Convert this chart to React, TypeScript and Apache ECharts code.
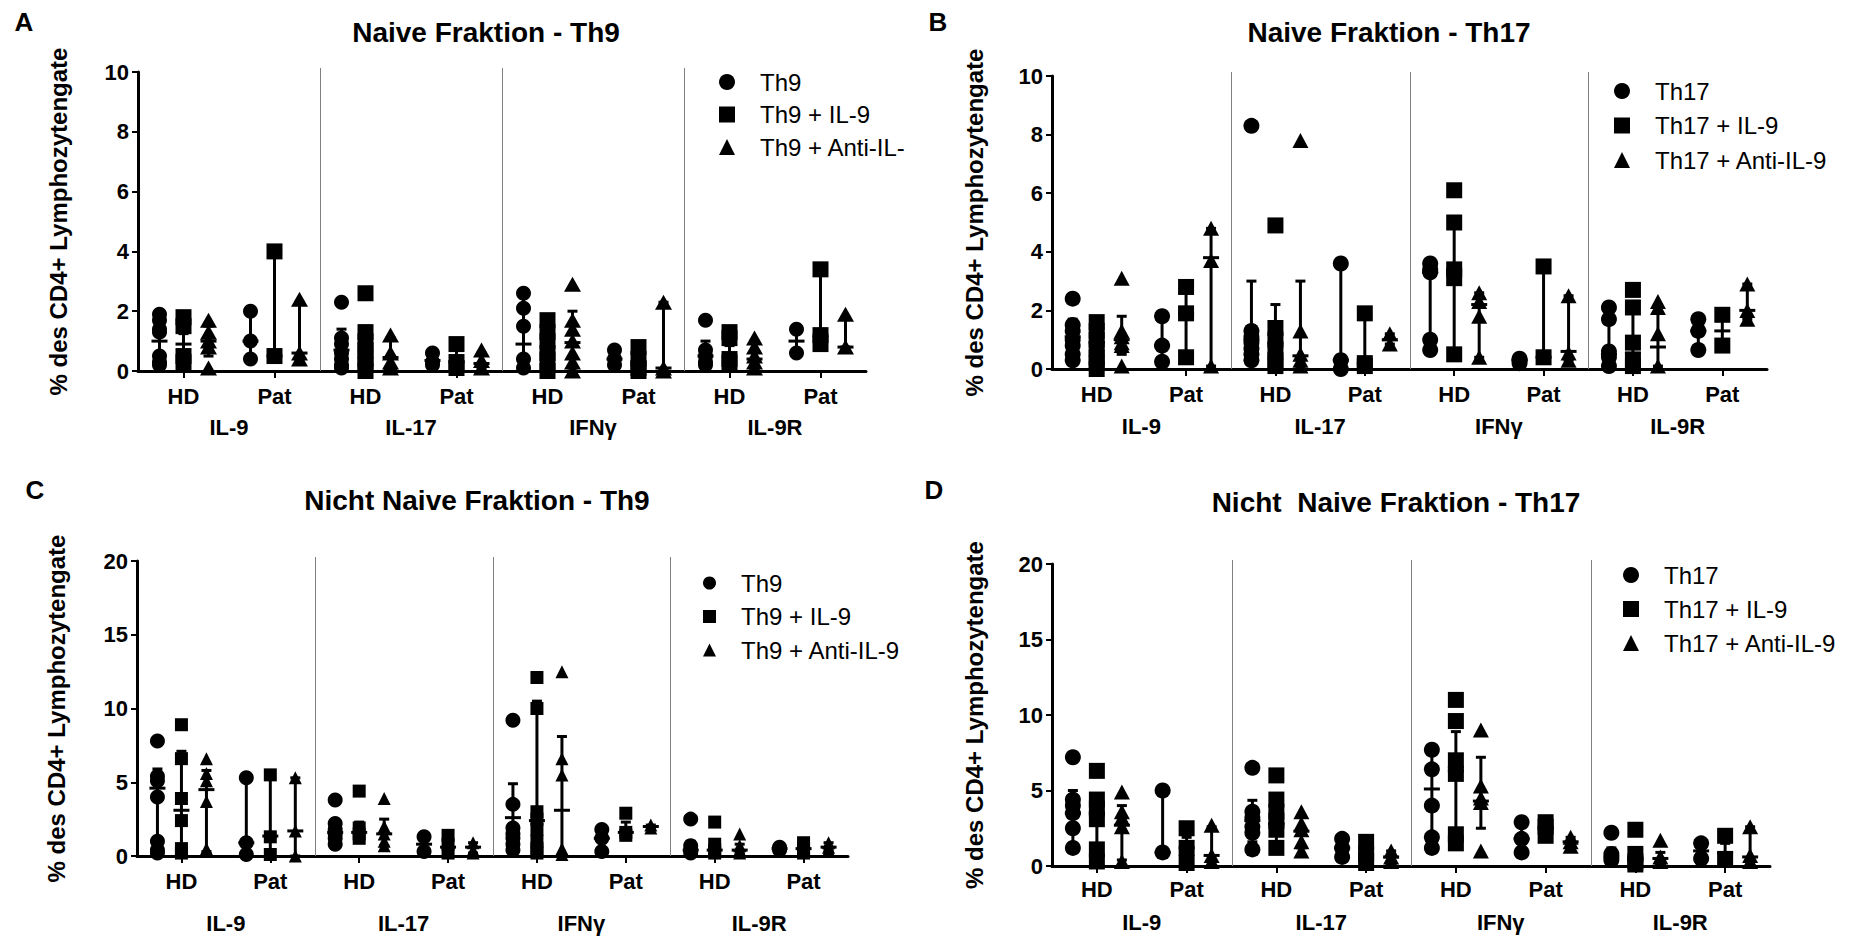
import React, { useEffect, useRef } from 'react';
import * as echarts from 'echarts';

// ---------- categories & labels ----------
const categories = ['HD', 'Pat', 'HD', 'Pat', 'HD', 'Pat', 'HD', 'Pat'];
const groups = ['IL-9', 'IL-17', 'IFNγ', 'IL-9R'];
const namesTh9 = ['Th9', 'Th9 + IL-9', 'Th9 + Anti-IL-9'];
const namesTh17 = ['Th17', 'Th17 + IL-9', 'Th17 + Anti-IL-9'];
const yAxisName = '% des CD4+ Lymphozytengate';
const titles = ['Naive Fraktion - Th9', 'Naive Fraktion - Th17', 'Nicht Naive Fraktion - Th9', 'Nicht  Naive Fraktion - Th17'];
const letters = ['A', 'B', 'C', 'D'];
const yMaxNaive = 10;
const yStepNaive = 2;
const yMaxNonNaive = 20;
const yStepNonNaive = 5;

// ---------- Panel A: Naive Fraktion - Th9 (values per category) ----------
const aTh9 = [[1.9, 1.7, 1.4, 1.3, 0.5, 0.3, 0.2], [2.0, 1.0, 0.4], [2.3, 1.1, 0.9, 0.6, 0.4, 0.2, 0.1], [0.6, 0.3, 0.2], [2.6, 2.1, 1.5, 0.4, 0.1], [0.7, 0.4, 0.2], [1.7, 0.7, 0.5, 0.3, 0.2], [1.4, 0.6]];
const aTh9IL9 = [[1.8, 1.5, 0.5, 0.3], [4.0, 0.5], [2.6, 1.3, 1.0, 0.7, 0.4, 0.2, 0.0], [0.9, 0.3, 0.1], [1.7, 1.3, 1.0, 0.6, 0.3, 0.0], [0.8, 0.4, 0.1, 0.0], [1.3, 1.1, 0.4, 0.2], [3.4, 1.2, 0.9]];
const aTh9Anti = [[1.7, 1.3, 1.0, 0.8, 0.1], [2.4, 0.6, 0.4], [1.2, 0.6, 0.3, 0.2, 0.1], [0.7, 0.35, 0.1], [2.9, 1.7, 1.4, 1.0, 0.6, 0.3, 0.0], [2.3, 0.1, 0.0], [1.1, 0.8, 0.5, 0.3, 0.1], [1.9, 0.8]];
// error bars [low, centre, high]
const aTh9Bars = [[0.3, 1.0, 1.8], [0.4, 1.0, 2.0], [0.1, 0.7, 1.4], [0.2, 0.35, 0.6], [0.1, 0.9, 2.6], [0.2, 0.4, 0.7], [0.1, 0.5, 1.0], [0.6, 1.0, 1.4]];
const aTh9IL9Bars = [[0.6, 0.9, 1.25], [0.5, 0.5, 4.0], [0.0, 0.7, 1.5], [0.1, 0.3, 0.9], [0.0, 0.6, 1.7], [0.0, 0.3, 0.8], [0.3, 0.5, 0.85], [0.9, 1.2, 3.4]];
const aTh9AntiBars = [[0.5, 1.0, 1.5], [0.4, 0.6, 2.3], [0.0, 0.45, 1.1], [0.1, 0.25, 0.6], [0.0, 0.95, 2.0], [0.0, 0.1, 2.3], [0.1, 0.4, 1.0], [0.8, 0.8, 1.8]];

// ---------- Panel B: Naive Fraktion - Th17 ----------
const bTh17 = [[2.4, 1.5, 1.3, 1.0, 0.8, 0.5, 0.3], [1.8, 0.8, 0.25], [8.3, 1.3, 1.1, 0.9, 0.7, 0.5, 0.3], [3.6, 0.3, 0.0], [3.6, 3.4, 3.3, 1.0, 0.65], [0.35, 0.3, 0.2], [2.1, 1.7, 0.6, 0.4, 0.1], [1.7, 1.3, 0.65]];
const bTh17IL9 = [[1.6, 1.3, 1.0, 0.7, 0.4, 0.2, 0.0], [2.8, 1.9, 0.4], [4.9, 1.4, 1.0, 0.6, 0.3, 0.1], [1.9, 0.2, 0.1], [6.1, 5.0, 3.4, 3.1, 0.5], [3.5, 0.4], [2.7, 2.1, 0.9, 0.3, 0.1], [1.85, 0.8]];
const bTh17Anti = [[3.1, 1.3, 1.1, 0.9, 0.8, 0.1], [4.8, 3.7, 0.1], [7.8, 1.3, 0.5, 0.3, 0.1], [1.2, 0.85], [2.6, 2.3, 1.8, 0.4], [2.5, 0.55, 0.3], [2.3, 2.1, 1.2, 0.1], [2.9, 2.0, 1.7]];
const bTh17Bars = [[0.3, 1.1, 1.7], [0.25, 0.8, 1.8], [0.3, 1.0, 3.0], [0.0, 0.3, 3.6], [0.7, 3.3, 3.6], [0.2, 0.3, 0.35], [0.1, 0.5, 2.0], [0.65, 1.3, 1.7]];
const bTh17IL9Bars = [[0.0, 0.9, 1.7], [0.4, 1.9, 2.8], [0.0, 0.9, 2.2], [0.1, 0.2, 1.7], [0.5, 3.4, 5.2], [0.4, 0.4, 3.5], [0.1, 0.55, 2.1], [0.8, 1.3, 1.85]];
const bTh17AntiBars = [[0.5, 1.0, 1.8], [0.1, 3.8, 4.8], [0.1, 0.45, 3.0], [0.85, 1.0, 1.2], [0.4, 2.2, 2.6], [0.3, 0.6, 2.5], [0.1, 0.75, 2.2], [1.7, 2.0, 2.9]];

// ---------- Panel C: Nicht Naive Fraktion - Th9 ----------
const cTh9 = [[7.8, 5.4, 5.1, 4.0, 1.0, 0.4, 0.2], [5.3, 0.9, 0.1], [3.8, 2.2, 1.8, 1.5, 1.2, 0.8], [1.3, 0.3], [9.2, 3.5, 1.9, 1.5, 1.2, 0.8, 0.4], [1.8, 1.2, 0.3], [2.5, 0.7, 0.4, 0.2], [0.6, 0.5, 0.4]];
const cTh9IL9 = [[8.9, 6.6, 3.9, 2.4, 0.5, 0.2], [5.5, 1.3, 0.1], [4.4, 1.9, 1.5, 1.2], [1.4, 0.8, 0.2], [12.1, 10.0, 3.0, 2.5, 1.8, 1.0, 0.5, 0.2], [2.9, 1.6, 1.4], [2.3, 0.8, 0.4, 0.2], [0.9, 0.5, 0.2]];
const cTh9Anti = [[6.6, 5.6, 5.1, 3.7, 0.5], [5.3, 1.7, 0.0], [3.9, 2.0, 1.5, 1.0, 0.7], [0.9, 0.4, 0.2], [12.5, 6.6, 5.5, 0.5, 0.1], [2.1, 1.9], [1.5, 0.7, 0.4, 0.2], [0.9, 0.6, 0.4]];
const cTh9Bars = [[0.3, 4.6, 5.9], [0.1, 0.9, 5.3], [1.0, 1.6, 2.4], [0.3, 0.8, 1.3], [0.4, 2.6, 4.9], [0.3, 1.2, 1.8], [0.2, 0.4, 1.0], [0.4, 0.5, 0.6]];
const cTh9IL9Bars = [[0.3, 3.1, 7.1], [0.1, 1.35, 5.5], [1.1, 1.6, 2.3], [0.2, 0.6, 1.4], [0.6, 2.4, 10.5], [1.3, 1.6, 2.3], [0.2, 0.4, 0.9], [0.2, 0.5, 0.9]];
const cTh9AntiBars = [[0.3, 4.5, 5.8], [0.0, 1.7, 5.3], [0.7, 1.5, 2.5], [0.2, 0.6, 0.9], [0.0, 3.1, 8.1], [1.9, 2.0, 2.1], [0.2, 0.4, 0.8], [0.4, 0.6, 0.9]];

// ---------- Panel D: Nicht Naive Fraktion - Th17 ----------
const dTh17 = [[7.2, 4.4, 4.0, 3.5, 2.5, 1.2], [5.0, 0.9], [6.5, 3.6, 3.2, 2.6, 2.2, 1.1], [1.8, 1.2, 0.6], [7.7, 6.4, 4.0, 1.9, 1.2], [2.9, 1.8, 0.9], [2.2, 0.8, 0.4], [1.5, 0.5]];
const dTh17IL9 = [[6.3, 4.4, 3.8, 3.1, 1.1, 0.3], [2.5, 1.2, 0.2], [6.0, 4.4, 3.6, 3.0, 2.4, 1.2], [1.6, 0.8, 0.2], [11.0, 9.6, 7.0, 6.1, 2.1, 1.5], [2.9, 2.6, 2.0], [2.4, 0.8, 0.3, 0.1], [2.0, 0.4]];
const dTh17Anti = [[4.9, 3.6, 3.2, 2.6, 0.3], [2.7, 0.7, 0.3], [3.6, 2.8, 2.4, 1.6, 1.0], [1.0, 0.6, 0.3], [9.0, 5.3, 4.5, 4.2, 1.0], [1.9, 1.6, 1.3], [1.7, 0.6, 0.3], [2.6, 0.7, 0.3]];
const dTh17Bars = [[1.4, 3.5, 5.0], [0.9, 0.9, 5.0], [1.6, 3.0, 4.35], [0.6, 1.2, 1.8], [1.3, 5.1, 7.5], [0.9, 1.8, 2.9], [0.4, 0.6, 1.2], [0.5, 1.0, 1.5]];
const dTh17IL9Bars = [[1.0, 3.5, 4.7], [0.2, 1.2, 1.9], [1.0, 2.8, 4.5], [0.2, 0.8, 1.6], [1.5, 6.3, 8.9], [2.0, 2.6, 2.9], [0.1, 0.5, 1.0], [0.3, 0.9, 1.5]];
const dTh17AntiBars = [[0.4, 2.7, 4.0], [0.3, 0.7, 2.6], [1.2, 2.3, 3.3], [0.3, 0.6, 1.0], [2.5, 4.3, 7.2], [1.3, 1.6, 1.9], [0.3, 0.5, 0.9], [0.3, 0.6, 2.6]];

// ---------- layout / style (kept apart from the data) ----------
const FONT = '"Liberation Sans", Arial, Helvetica, sans-serif';
const SYMBOLS = ['circle', 'rect', 'triangle'];
const OFFSETS = [-24, 0, 25];

const panels = [
  {
    names: namesTh9, values: [aTh9, aTh9IL9, aTh9Anti], bars: [aTh9Bars, aTh9IL9Bars, aTh9AntiBars],
    yMax: yMaxNaive, yStep: yStepNaive,
    grid: { left: 138, top: 72, width: 728, height: 299 },
    titleXY: [486, 32], letterXY: [24, 22], nameGap: 68, labelMargin: 14, groupOffset: 37,
    legend: { left: 719, top: 70, gap: 8.5, icon: 16, width: 150 },
    sizes: [15, 16, [17, 15]],
  },
  {
    names: namesTh17, values: [bTh17, bTh17IL9, bTh17Anti], bars: [bTh17Bars, bTh17IL9Bars, bTh17AntiBars],
    yMax: yMaxNaive, yStep: yStepNaive,
    grid: { left: 1052, top: 76, width: 715, height: 293 },
    titleXY: [1389, 32], letterXY: [938, 22], nameGap: 66, labelMargin: 14, groupOffset: 38,
    legend: { left: 1614, top: 79, gap: 10.5, icon: 16, width: 0 },
    sizes: [16, 16, [16, 15]],
  },
  {
    names: namesTh9, values: [cTh9, cTh9IL9, cTh9Anti], bars: [cTh9Bars, cTh9IL9Bars, cTh9AntiBars],
    yMax: yMaxNonNaive, yStep: yStepNonNaive,
    grid: { left: 137, top: 561, width: 711, height: 295 },
    titleXY: [477, 500], letterXY: [35, 490], nameGap: 69, labelMargin: 14, groupOffset: 48,
    legend: { left: 703, top: 571, gap: 9.5, icon: 13, width: 0 },
    sizes: [15, 13, [13, 13]],
  },
  {
    names: namesTh17, values: [dTh17, dTh17IL9, dTh17Anti], bars: [dTh17Bars, dTh17IL9Bars, dTh17AntiBars],
    yMax: yMaxNonNaive, yStep: yStepNonNaive,
    grid: { left: 1052, top: 564, width: 718, height: 302 },
    titleXY: [1396, 502], letterXY: [934, 490], nameGap: 66, labelMargin: 12, groupOffset: 37,
    legend: { left: 1623, top: 563, gap: 10, icon: 16, width: 0 },
    sizes: [16, 16, [16, 15]],
  },
];

function toPoints(vals: number[][]) {
  const out: number[][] = [];
  vals.forEach((list, i) => list.forEach((v) => out.push([i, v])));
  return out;
}
function toBars(b: number[][]) {
  return b.map((r, i) => [i, r[0], r[1], r[2]]);
}
const separatorData = groups.slice(0, -1).map((_, g) => [g * 2 + 1, 0]);

function makeBarRender(off: number) {
  return (params: any, api: any) => {
    const i = api.value(0);
    const cx = api.coord([i, 0])[0] + off;
    const lo = api.coord([i, api.value(1)])[1];
    const md = api.coord([i, api.value(2)])[1];
    const hi = api.coord([i, api.value(3)])[1];
    const st = { stroke: '#000', lineWidth: 3 };
    return {
      type: 'group',
      children: [
        { type: 'line', shape: { x1: cx, y1: lo, x2: cx, y2: hi }, style: st },
        { type: 'line', shape: { x1: cx - 5, y1: hi, x2: cx + 5, y2: hi }, style: st },
        { type: 'line', shape: { x1: cx - 5, y1: lo, x2: cx + 5, y2: lo }, style: st },
        { type: 'line', shape: { x1: cx - 8, y1: md, x2: cx + 8, y2: md }, style: st },
      ],
    };
  };
}

function renderSeparator(params: any, api: any) {
  const i = api.value(0);
  const x = Math.round((api.coord([i, 0])[0] + api.coord([i + 1, 0])[0]) / 2) + 0.5;
  const cs = params.coordSys;
  return {
    type: 'line',
    shape: { x1: x, y1: cs.y - 4, x2: x, y2: cs.y + cs.height },
    style: { stroke: '#808080', lineWidth: 1 },
  };
}

function buildOption() {
  const grid: any[] = [];
  const xAxis: any[] = [];
  const yAxis: any[] = [];
  const series: any[] = [];
  const legend: any[] = [];
  const graphic: any[] = [];

  panels.forEach((p, pi) => {
    grid.push({ ...p.grid, containLabel: false });
    xAxis.push({
      type: 'category', gridIndex: pi, data: categories, position: 'bottom',
      axisLine: { show: true, onZero: false, lineStyle: { color: '#000', width: 3 } },
      axisTick: { show: true, alignWithLabel: true, interval: 0, length: 7, lineStyle: { color: '#000', width: 2 } },
      axisLabel: { interval: 0, color: '#000', fontSize: 22, fontWeight: 'bold', fontFamily: FONT, margin: p.labelMargin },
      splitLine: { show: false },
    });
    xAxis.push({
      type: 'category', gridIndex: pi, data: groups, position: 'bottom', offset: p.groupOffset,
      axisLine: { show: false }, axisTick: { show: false }, splitLine: { show: false },
      axisLabel: { interval: 0, color: '#000', fontSize: 22, fontWeight: 'bold', fontFamily: FONT, margin: 8 },
    });
    yAxis.push({
      type: 'value', gridIndex: pi, min: 0, max: p.yMax, interval: p.yStep,
      axisLine: { show: true, lineStyle: { color: '#000', width: 3 } },
      axisTick: { show: true, length: 6, lineStyle: { color: '#000', width: 2 } },
      axisLabel: { color: '#000', fontSize: 22, fontWeight: 'bold', fontFamily: FONT, margin: 9 },
      splitLine: { show: false },
      name: yAxisName, nameLocation: 'middle', nameGap: p.nameGap,
      nameTextStyle: { color: '#000', fontSize: 24, fontWeight: 'bold', fontFamily: FONT },
    });
    series.push({
      type: 'custom', id: `sep${pi}`, xAxisIndex: pi * 2, yAxisIndex: pi, silent: true, z: 1,
      data: separatorData, encode: { x: 0, y: 1 }, renderItem: renderSeparator,
    });
    p.names.forEach((name, si) => {
      series.push({
        type: 'scatter', name, xAxisIndex: pi * 2, yAxisIndex: pi, z: 3, silent: true,
        symbol: SYMBOLS[si], symbolSize: p.sizes[si], symbolOffset: [OFFSETS[si], 0],
        itemStyle: { color: '#000', opacity: 1 },
        data: toPoints(p.values[si]),
      });
      series.push({
        type: 'custom', id: `bar${pi}_${si}`, xAxisIndex: pi * 2, yAxisIndex: pi, z: 4, silent: true,
        data: toBars(p.bars[si]), encode: { x: 0, y: [1, 2, 3] },
        renderItem: makeBarRender(OFFSETS[si]),
      });
    });
    const textStyle: any = {
      color: '#000', fontSize: 24, lineHeight: 24, fontFamily: FONT, padding: [0, 0, 0, 20],
    };
    if (p.legend.width) {
      textStyle.width = p.legend.width;
      textStyle.overflow = 'truncate';
      textStyle.ellipsis = '';
    }
    legend.push({
      orient: 'vertical', left: p.legend.left, top: p.legend.top, padding: 0,
      itemWidth: p.legend.icon, itemHeight: p.legend.icon, itemGap: p.legend.gap,
      selectedMode: false,
      data: p.names.map((n, si) => ({ name: n, icon: SYMBOLS[si] })),
      itemStyle: { color: '#000' },
      textStyle,
    });
    graphic.push({
      type: 'text', x: p.titleXY[0], y: p.titleXY[1], silent: true,
      style: { text: titles[pi], fill: '#000', fontSize: 28, fontWeight: 'bold', fontFamily: FONT, align: 'center', verticalAlign: 'middle' },
    });
    graphic.push({
      type: 'text', x: p.letterXY[0], y: p.letterXY[1], silent: true,
      style: { text: letters[pi], fill: '#000', fontSize: 26, fontWeight: 'bold', fontFamily: FONT, align: 'center', verticalAlign: 'middle' },
    });
  });

  return {
    animation: false,
    backgroundColor: '#fff',
    textStyle: { fontFamily: FONT },
    grid, xAxis, yAxis, series, legend, graphic,
  };
}

export default function App() {
  const ref = useRef<HTMLDivElement>(null);
  useEffect(() => {
    if (!ref.current) return;
    const chart = echarts.init(ref.current, undefined, { renderer: 'svg' });
    chart.setOption(buildOption() as any);
    return () => chart.dispose();
  }, []);
  return (
    <div
      ref={ref}
      style={{ position: 'fixed', left: 0, top: 0, width: 1861, height: 940, background: '#fff' }}
    />
  );
}
